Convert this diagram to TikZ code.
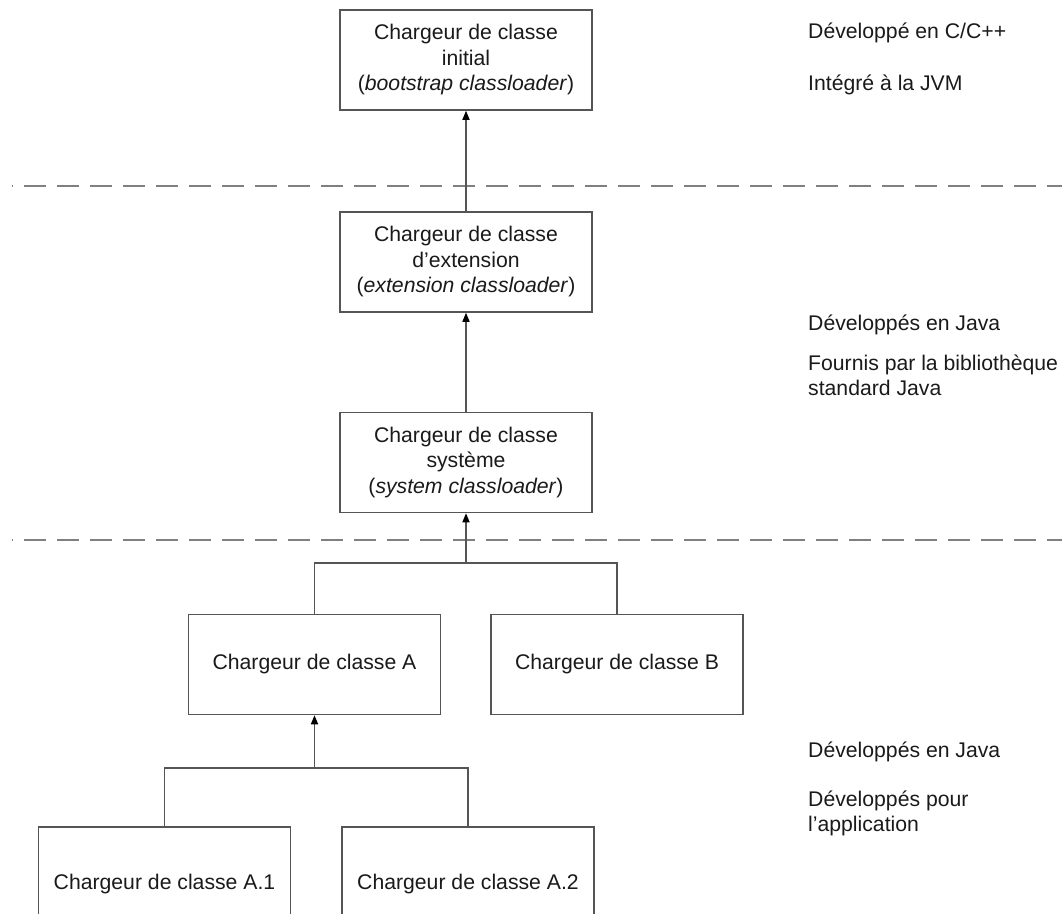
\documentclass[tikz,border=0pt]{standalone}
\usepackage{fontspec}
\setmainfont{Liberation Sans}
\usetikzlibrary{arrows.meta}
\definecolor{txt}{HTML}{1A1A1A}
\definecolor{edge}{HTML}{555555}
\definecolor{dash}{HTML}{808080}
\tikzset{
  box/.style={draw=edge, line width=1.5pt, rectangle, minimum width=252pt, minimum height=100pt, inner sep=0pt, align=center, text=txt, font=\fontsize{21.2}{25.5}\selectfont},
  conn/.style={draw=edge, line width=1.5pt},
  arr/.style={conn, -{Triangle[length=9pt,width=7pt,fill=black,color=black]}},
  sep/.style={draw=dash, line width=2pt, dash pattern=on 22pt off 11pt, dash phase=21pt},
  note/.style={anchor=west, align=left, text=txt, inner sep=0pt, font=\fontsize{21.2}{25.5}\selectfont}
}
\begin{document}
\begin{tikzpicture}[x=1pt,y=-1pt]
\useasboundingbox (0,0) rectangle (1062,913);
\clip (0,0) rectangle (1062,913);
\fill[white] (0,0) rectangle (1062,913);
% separators
\coordinate (s1a) at (12,186); \coordinate (s1b) at (1062,186);
\coordinate (s2a) at (12,540); \coordinate (s2b) at (1062,540);
\draw[sep] (s1a) -- (s1b);
\draw[sep] (s2a) -- (s2b);
% boxes
\node[box] (init) at (466,60) {Chargeur de classe\\initial\\(\textit{bootstrap classloader})};
\node[box] (ext) at (466,262) {Chargeur de classe\\d’extension\\(\textit{extension classloader})};
\node[box] (sys) at (466,462.5) {Chargeur de classe\\système\\(\textit{system classloader})};
\node[box] (A) at (314.5,664.5) {Chargeur de classe A};
\node[box] (B) at (617,664.5) {Chargeur de classe B};
\node[box, minimum height=114pt] (A1) at (164.5,884) {Chargeur de classe A.1};
\node[box, minimum height=114pt] (A2) at (468,884) {Chargeur de classe A.2};
% connectors
\draw[arr] (ext.north) -- (init.south);
\draw[arr] (sys.north) -- (ext.south);
\coordinate (j1) at (466,563);
\draw[conn] (A.north) |- (j1) -| (B.north);
\draw[arr] (j1) -- (sys.south);
\coordinate (j2) at (314.5,768);
\draw[conn] (A1.north) |- (j2) -| (A2.north);
\draw[arr] (j2) -- (A.south);
% notes
\node[note] (n1) at (808,33) {Développé en C/C++};
\node[note] (n2) at (808,85) {Intégré à la JVM};
\node[note] (n3) at (808,325) {Développés en Java};
\node[note] (n4) at (808,375.5) {Fournis par la bibliothèque\\standard Java};
\node[note] (n5) at (808,752) {Développés en Java};
\node[note] (n6) at (808,813.5) {Développés pour\\l’application};
\end{tikzpicture}
\end{document}
